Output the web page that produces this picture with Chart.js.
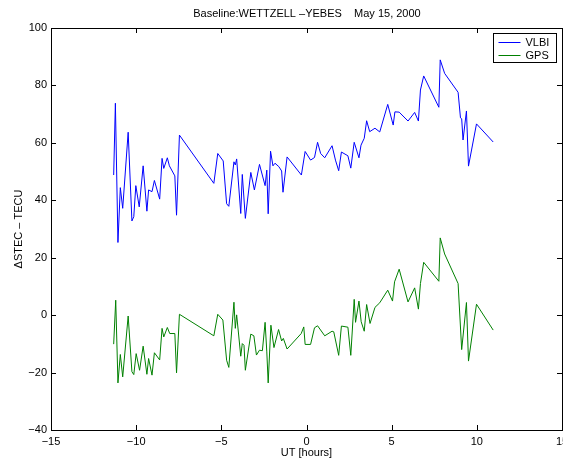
<!DOCTYPE html>
<html>
<head>
<meta charset="utf-8">
<script src="https://cdn.jsdelivr.net/npm/chart.js@4"></script>
<style>
  html, body { margin: 0; padding: 0; background: #fff; }
  #wrap { width: 563px; height: 459px; }
</style>
</head>
<body>
<div id="wrap"><canvas id="stecChart" width="563" height="459"></canvas></div>
<script>
// DATA
const utVlbi = [-11.32, -11.22, -11.07, -10.93, -10.79, -10.47, -10.25, -10.14, -10.02, -9.82,
    -9.59, -9.37, -9.27, -9.07, -8.93, -8.62, -8.48, -8.38, -8.17, -8.05,
    -7.73, -7.63, -7.46, -5.44, -5.21, -4.89, -4.69, -4.56, -4.26, -4.18,
    -4.10, -3.86, -3.77, -3.59, -3.27, -3.06, -2.76, -2.43, -2.33, -2.25,
    -2.11, -1.97, -1.85, -1.62, -1.46, -1.38, -1.14, -0.30, -0.08, 0.24,
    0.47, 0.65, 0.83, 1.07, 1.50, 1.70, 1.89, 2.05, 2.43, 2.60,
    2.80, 3.08, 3.20, 3.39, 3.53, 3.71, 4.02, 4.30, 4.77, 5.09,
    5.19, 5.44, 5.96, 6.35, 6.57, 6.69, 6.88, 7.77, 7.85, 8.11,
    8.90, 9.04, 9.11, 9.19, 9.39, 9.51, 9.98, 10.96];
const stecVlbi = [48.8, 73.8, 25.3, 44.4, 37.2, 63.7, 32.8, 34.3, 45.1, 37.7,
    52.0, 36.2, 43.6, 43.0, 46.9, 40.4, 54.6, 51.1, 54.8, 52.0,
    48.5, 34.8, 62.7, 45.9, 56.3, 53.7, 38.8, 37.9, 53.4, 52.3,
    54.4, 35.4, 49.0, 33.7, 49.7, 43.6, 52.5, 45.1, 50.5, 35.3,
    57.1, 52.0, 52.9, 51.7, 50.2, 42.8, 55.1, 48.8, 57.0, 54.0,
    54.9, 60.2, 56.3, 54.8, 59.0, 54.0, 50.3, 56.8, 55.5, 51.2,
    60.2, 54.8, 59.2, 61.6, 67.7, 63.9, 65.1, 63.8, 73.4, 66.2,
    70.8, 70.7, 67.6, 70.6, 67.6, 78.4, 83.3, 72.4, 88.9, 84.2,
    77.6, 68.7, 68.4, 61.0, 71.1, 51.9, 66.6, 60.3];

const utGps = [-11.32, -11.20, -11.07, -10.93, -10.79, -10.47, -10.25, -10.14, -10.00, -9.80,
    -9.59, -9.37, -9.27, -9.07, -8.93, -8.62, -8.48, -8.38, -8.17, -8.03,
    -7.73, -7.63, -7.46, -5.44, -5.21, -4.91, -4.69, -4.56, -4.26, -4.18,
    -4.10, -3.86, -3.77, -3.67, -3.59, -3.27, -3.09, -2.94, -2.76, -2.59,
    -2.43, -2.33, -2.25, -2.09, -1.91, -1.64, -1.46, -1.36, -1.14, -0.31,
    -0.16, -0.08, 0.24, 0.47, 0.65, 1.07, 1.50, 1.60, 1.89, 2.05,
    2.43, 2.60, 2.80, 2.88, 3.08, 3.21, 3.39, 3.53, 3.73, 4.02,
    4.30, 4.77, 5.05, 5.17, 5.44, 5.96, 6.35, 6.57, 6.69, 6.88,
    7.77, 7.85, 8.11, 8.90, 9.11, 9.39, 9.51, 9.98, 10.96];
const stecGps = [-10.1, 5.2, -23.6, -13.7, -21.5, -0.3, -19.7, -20.7, -13.4, -19.2,
    -10.8, -20.6, -15.1, -20.9, -13.1, -15.6, -4.6, -7.6, -4.3, -6.4,
    -6.4, -20.1, 0.3, -7.2, 0.3, -1.7, -15.7, -18.2, 4.5, -4.6,
    0.1, -14.3, -9.9, -10.5, -19.2, -6.6, -7.2, -13.9, -12.2, -12.4,
    -2.5, -12.8, -23.6, -3.5, -11.3, -5.0, -9.0, -8.1, -11.8, -6.4,
    -4.1, -10.2, -10.2, -4.4, -3.7, -7.2, -5.6, -5.8, -14.0, -3.8,
    -4.2, -14.0, 5.5, -2.5, 4.9, -2.3, -5.6, 3.7, -2.9, 2.7,
    4.3, 8.7, 4.9, 11.6, 16.0, 4.6, 9.5, 2.1, 11.0, 18.4,
    11.8, 26.9, 21.3, 11.0, -12.0, 4.4, -16.0, 3.8, -5.2];

const seriesNames = ["VLBI", "GPS"];
const seriesColors = ["#0000ff", "#008000"];
const xTickValues = [-15, -10, -5, 0, 5, 10, 15];
const yTickValues = [-40, -20, 0, 20, 40, 60, 80, 100];

const FONT = "'Liberation Sans', Arial, Helvetica, sans-serif";

function toPoints(xs, ys) {
    return xs.map((x, i) => ({ x: x, y: ys[i] }));
}

function matlabMinus(v) {
    return String(v).replace("-", "\u2212");
}

// BOX, INWARD TICKS AND LEGEND (MATLAB STYLE)
const matlabFrame = {
    id: "matlabFrame",
    afterDraw(chart) {
        const ctx = chart.ctx;
        const area = chart.chartArea;
        const xs = chart.scales.x;
        const ys = chart.scales.y;
        const tickLen = 5;

        ctx.save();
        ctx.strokeStyle = "#000";
        ctx.lineWidth = 1;
        ctx.strokeRect(Math.round(area.left) + 0.5, Math.round(area.top) + 0.5,
            Math.round(area.right - area.left), Math.round(area.bottom - area.top));

        ctx.beginPath();
        xTickValues.forEach(v => {
            const px = Math.round(xs.getPixelForValue(v)) + 0.5;
            ctx.moveTo(px, area.bottom);
            ctx.lineTo(px, area.bottom - tickLen);
            ctx.moveTo(px, area.top);
            ctx.lineTo(px, area.top + tickLen);
        });
        yTickValues.forEach(v => {
            const py = Math.round(ys.getPixelForValue(v)) + 0.5;
            ctx.moveTo(area.left, py);
            ctx.lineTo(area.left + tickLen, py);
            ctx.moveTo(area.right, py);
            ctx.lineTo(area.right - tickLen, py);
        });
        ctx.stroke();

        // LEGEND BOX
        const lx = 493.5, ly = 33.5, lw = 63, lh = 29;
        ctx.fillStyle = "#fff";
        ctx.fillRect(lx, ly, lw, lh);
        ctx.strokeRect(lx, ly, lw, lh);
        ctx.font = "11px " + FONT;
        ctx.textBaseline = "middle";
        chart.data.datasets.forEach((ds, i) => {
            const rowY = Math.round(ly + 8 + i * 13) + 0.5;
            ctx.strokeStyle = ds.borderColor;
            ctx.beginPath();
            ctx.moveTo(lx + 5, rowY);
            ctx.lineTo(lx + 27, rowY);
            ctx.stroke();
            ctx.fillStyle = "#000";
            ctx.fillText(ds.label, lx + 32, rowY + 0.5);
        });
        ctx.restore();
    }
};

const ctx = document.getElementById("stecChart").getContext("2d");
const stecChart = new Chart(ctx, {
    type: "line",
    data: {
        datasets: [
            {
                label: seriesNames[0],
                data: toPoints(utVlbi, stecVlbi),
                borderColor: seriesColors[0],
                borderWidth: 1,
                pointRadius: 0,
                tension: 0,
                fill: false
            },
            {
                label: seriesNames[1],
                data: toPoints(utGps, stecGps),
                borderColor: seriesColors[1],
                borderWidth: 1,
                pointRadius: 0,
                tension: 0,
                fill: false
            }
        ]
    },
    options: {
        responsive: false,
        animation: false,
        events: [],
        layout: { padding: { top: 28, right: 1, left: 0, bottom: 0 } },
        plugins: {
            legend: { display: false },
            tooltip: { enabled: false },
            title: { display: false }
        },
        scales: {
            x: {
                type: "linear",
                min: -15,
                max: 15,
                afterBuildTicks: scale => { scale.ticks = xTickValues.map(v => ({ value: v })); },
                afterFit: scale => { scale.height = 29; scale.paddingLeft = 0; scale.paddingRight = 0; },
                grid: { display: false, drawTicks: false },
                border: { display: false },
                ticks: {
                    color: "#000",
                    font: { family: FONT, size: 11 },
                    padding: 5,
                    maxRotation: 0,
                    callback: v => matlabMinus(v)
                },
                title: {
                    display: true,
                    text: "UT [hours]",
                    color: "#000",
                    font: { family: FONT, size: 11 },
                    padding: { top: 0, bottom: -1 }
                }
            },
            y: {
                type: "linear",
                min: -40,
                max: 100,
                afterBuildTicks: scale => { scale.ticks = yTickValues.map(v => ({ value: v })); },
                afterFit: scale => { scale.width = 51; scale.paddingTop = 0; scale.paddingBottom = 0; },
                grid: { display: false, drawTicks: false },
                border: { display: false },
                ticks: {
                    color: "#000",
                    font: { family: FONT, size: 11 },
                    padding: 4,
                    callback: v => matlabMinus(v)
                },
                title: {
                    display: true,
                    text: "\u0394STEC \u2013 TECU",
                    color: "#000",
                    font: { family: FONT, size: 11 },
                    padding: { top: 12, bottom: 0 }
                }
            }
        }
    },
    plugins: [
        matlabFrame,
        {
            id: "topTitle",
            afterDraw(chart) {
                const c = chart.ctx;
                c.save();
                c.font = "11px " + FONT;
                c.fillStyle = "#000";
                c.textAlign = "center";
                c.textBaseline = "middle";
                c.fillText("Baseline:WETTZELL \u2013YEBES    May 15, 2000", 307, 14);
                c.restore();
            }
        }
    ]
});
</script>
</body>
</html>
